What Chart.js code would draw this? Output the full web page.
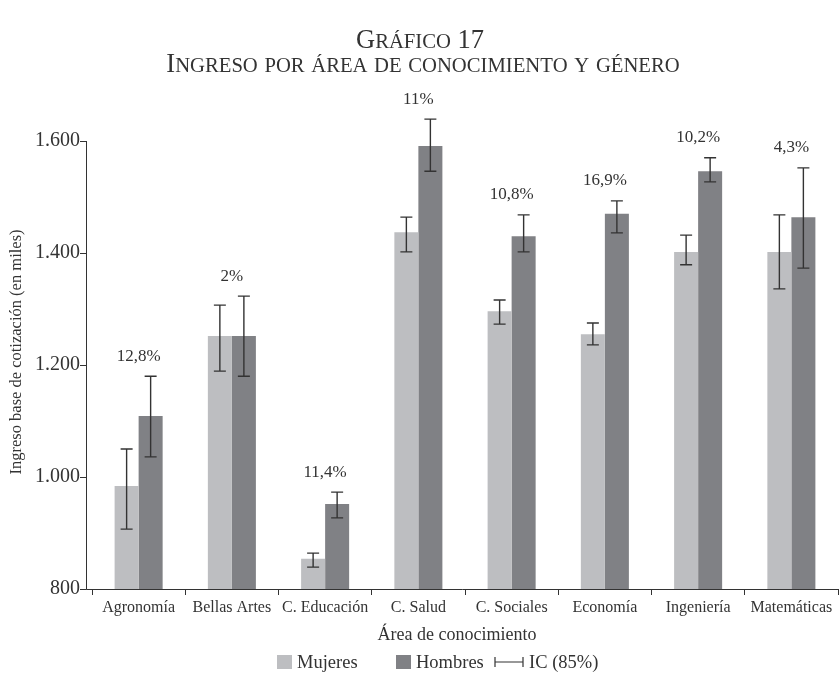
<!DOCTYPE html>
<html>
<head>
<meta charset="utf-8">
<script src="https://cdn.jsdelivr.net/npm/chart.js@4.4.1/dist/chart.umd.min.js"></script>
<style>
  body { margin: 0; background: #fff; }
  #wrap { width: 839px; height: 678px; }
</style>
</head>
<body>
<div id="wrap"><canvas id="drawChart"></canvas></div>
<script>
const categorias = ['Agronomía', 'Bellas Artes', 'C. Educación', 'C. Salud', 'C. Sociales', 'Economía', 'Ingeniería', 'Matemáticas'];
const mujeres    = [984, 1252, 854, 1437, 1296, 1255, 1402, 1402];
const mujeresMin = [907, 1189, 839, 1402, 1273, 1236, 1379, 1336];
const mujeresMax = [1050, 1307, 864, 1464, 1316, 1275, 1432, 1468];
const hombres    = [1109, 1252, 952, 1591, 1430, 1470, 1546, 1464];
const hombresMin = [1036, 1180, 927, 1546, 1402, 1436, 1527, 1373];
const hombresMax = [1180, 1323, 973, 1639, 1468, 1493, 1570, 1552];
const brecha = ['12,8%', '2%', '11,4%', '11%', '10,8%', '16,9%', '10,2%', '4,3%'];
const yTicks = [800, 1000, 1200, 1400, 1600];

const colorMujeres = '#bdbec1';
const colorHombres = '#808185';
const tinta = '#333333';
const fuente = '"Liberation Serif", "DejaVu Serif", serif';

function miles(v) {
    return v.toString().replace(/\B(?=(\d{3})+(?!\d))/g, '.');
}

// versalitas a mano: mayúsculas a tamaño completo, minúsculas reducidas
function versalitas(ctx, texto, cx, cy, size) {
    const small = size * 0.78;
    const partes = [];
    let total = 0;
    for (const ch of texto) {
        const esMin = ch !== ch.toUpperCase();
        const s = esMin ? small : size;
        const c = esMin ? ch.toUpperCase() : ch;
        ctx.font = s + 'px ' + fuente;
        const w = ctx.measureText(c).width;
        partes.push({c, s, w});
        total += w;
    }
    let x = cx - total / 2;
    ctx.textBaseline = 'alphabetic';
    ctx.textAlign = 'left';
    for (const p of partes) {
        ctx.font = p.s + 'px ' + fuente;
        ctx.fillText(p.c, x, cy);
        x += p.w;
    }
}

const extras = {
    id: 'extras',
    beforeDraw(chart) {
        const ctx = chart.ctx;
        ctx.save();
        ctx.fillStyle = tinta;
        versalitas(ctx, 'Gráfico 17', 420, 48, 26.5);
        versalitas(ctx, 'Ingreso por área de conocimiento y género', 423, 72, 26.5);
        // títulos de los ejes
        ctx.font = '18px ' + fuente;
        ctx.textAlign = 'center';
        ctx.textBaseline = 'middle';
        ctx.fillText('Área de conocimiento', 457, 635);
        ctx.translate(17, 352);
        ctx.rotate(-Math.PI / 2);
        ctx.font = '16.5px ' + fuente;
        ctx.fillText('Ingreso base de cotización (en miles)', 0, 0);
        ctx.restore();
    },
    afterDatasetsDraw(chart) {
        const ctx = chart.ctx;
        const y = chart.scales.y;
        const area = chart.chartArea;
        const bajos = [mujeresMin, hombresMin];
        const altos = [mujeresMax, hombresMax];
        ctx.save();
        // barras de error
        ctx.strokeStyle = tinta;
        ctx.lineWidth = 1.4;
        [0, 1].forEach(d => {
            chart.getDatasetMeta(d).data.forEach((bar, i) => {
                const y1 = y.getPixelForValue(bajos[d][i]);
                const y2 = y.getPixelForValue(altos[d][i]);
                ctx.beginPath();
                ctx.moveTo(bar.x, y1); ctx.lineTo(bar.x, y2);
                ctx.moveTo(bar.x - 6, y1); ctx.lineTo(bar.x + 6, y1);
                ctx.moveTo(bar.x - 6, y2); ctx.lineTo(bar.x + 6, y2);
                ctx.stroke();
            });
        });
        // brecha por área
        ctx.fillStyle = tinta;
        ctx.font = '17px ' + fuente;
        ctx.textAlign = 'center';
        ctx.textBaseline = 'middle';
        brecha.forEach((t, i) => {
            const top = Math.min(y.getPixelForValue(mujeresMax[i]), y.getPixelForValue(hombresMax[i]));
            ctx.fillText(t, chart.scales.x.getPixelForValue(i), top - 20);
        });
        // ejes
        const x0 = area.left - 6;
        ctx.strokeStyle = tinta;
        ctx.lineWidth = 1;
        ctx.beginPath();
        ctx.moveTo(x0 + 0.5, y.getPixelForValue(yTicks[yTicks.length - 1]));
        ctx.lineTo(x0 + 0.5, area.bottom + 0.5);
        ctx.lineTo(area.right, area.bottom + 0.5);
        yTicks.forEach(v => {
            const py = Math.round(y.getPixelForValue(v)) + 0.5;
            ctx.moveTo(x0 - 6, py); ctx.lineTo(x0 + 0.5, py);
        });
        ctx.stroke();
        ctx.restore();
    },
    afterDraw(chart) {
        const ctx = chart.ctx;
        ctx.save();
        ctx.font = '18.5px ' + fuente;
        ctx.textBaseline = 'middle';
        ctx.textAlign = 'left';
        const cy = 662;
        const items = [
            {texto: 'Mujeres', color: colorMujeres, x: 277},
            {texto: 'Hombres', color: colorHombres, x: 396},
            {texto: 'IC (85%)', color: null, x: 495}
        ];
        items.forEach(it => {
            let x = it.x;
            if (it.color) {
                ctx.fillStyle = it.color;
                ctx.fillRect(x, cy - 7, 15, 14);
                x += 20;
            } else {
                ctx.strokeStyle = tinta;
                ctx.lineWidth = 1.2;
                ctx.beginPath();
                ctx.moveTo(x, cy - 5); ctx.lineTo(x, cy + 5);
                ctx.moveTo(x, cy); ctx.lineTo(x + 28, cy);
                ctx.moveTo(x + 28, cy - 5); ctx.lineTo(x + 28, cy + 5);
                ctx.stroke();
                x += 34;
            }
            ctx.fillStyle = tinta;
            ctx.fillText(it.texto, x, cy + 1);
        });
        ctx.restore();
    }
};

const ctx = document.getElementById('drawChart').getContext('2d');
const myChart = new Chart(ctx, {
    type: 'bar',
    data: {
        labels: categorias,
        datasets: [{
            label: 'Mujeres',
            data: mujeres,
            backgroundColor: colorMujeres,
            categoryPercentage: 0.515,
            barPercentage: 1
        }, {
            label: 'Hombres',
            data: hombres,
            backgroundColor: colorHombres,
            categoryPercentage: 0.515,
            barPercentage: 1
        }]
    },
    options: {
        responsive: true,
        maintainAspectRatio: false,
        animation: false,
        layout: {padding: {top: 141, right: 1, bottom: 29, left: 0}},
        plugins: {
            legend: {display: false},
            tooltip: {enabled: false}
        },
        scales: {
            x: {
                afterFit: s => { s.height = 60; },
                border: {display: false},
                grid: {display: true, drawOnChartArea: false, drawTicks: true, tickLength: 6, color: tinta},
                ticks: {color: tinta, font: {family: fuente, size: 16}, padding: 3, maxRotation: 0}
            },
            y: {
                min: 800,
                max: 1600,
                afterFit: s => { s.width = 92; },
                border: {display: false},
                grid: {display: false, drawTicks: false},
                ticks: {stepSize: 200, color: tinta, padding: 12, font: {family: fuente, size: 20},
                        callback: v => miles(v)}
            }
        }
    },
    plugins: [extras]
});
</script>
</body>
</html>
